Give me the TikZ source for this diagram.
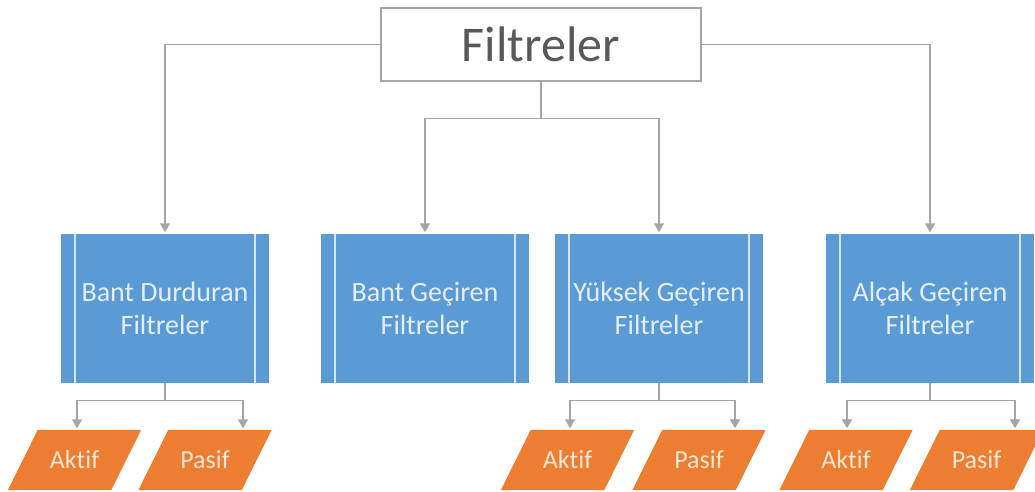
\documentclass[tikz,border=0pt]{standalone}
\usepackage{fontspec}
\setmainfont{Carlito}[Ligatures={NoCommon}]
\usetikzlibrary{arrows.meta}
\definecolor{bluefill}{HTML}{5B9BD5}
\definecolor{bluetext}{HTML}{E4EEF8}
\definecolor{stripe}{HTML}{D6E6F5}
\definecolor{orangefill}{HTML}{ED7D31}
\definecolor{orangetext}{HTML}{FCE6D4}
\definecolor{linegray}{HTML}{A5A5A5}
\definecolor{titlegray}{HTML}{595959}
\pgfdeclarelayer{background}
\pgfsetlayers{background,main}
\tikzset{
  titlebox/.style={draw=linegray, line width=2.8pt, fill=white, minimum width=320pt, minimum height=73pt,
    inner sep=0pt, text=titlegray, font=\fontsize{50}{60}\selectfont},
  bluebox/.style={fill=bluefill, minimum width=208pt, minimum height=149pt, inner sep=0pt,
    text=bluetext, align=center, font=\fontsize{28}{33}\selectfont,
    path picture={
      \draw[stripe, line width=1.3pt] ([xshift=14pt]path picture bounding box.north west) -- ([xshift=14pt]path picture bounding box.south west);
      \draw[stripe, line width=1.3pt] ([xshift=-14pt]path picture bounding box.north east) -- ([xshift=-14pt]path picture bounding box.south east);
    }},
  parabox/.style={minimum width=133pt, minimum height=60pt, inner sep=0pt,
    text=orangetext, font=\fontsize{26}{30}\selectfont},
  parafill/.style={fill=orangefill},
  conn/.style={draw=linegray, line width=1.4pt},
  arr/.style={conn, -{Triangle[width=10pt,length=9pt]}, color=linegray, shorten >=1.5pt},
}
\newcommand{\parashape}[1]{\fill[parafill] (#1.south west) -- ([xshift=30pt]#1.north west) -- (#1.north east) -- ([xshift=-30pt]#1.south east) -- cycle;}
\begin{document}
\begin{tikzpicture}[x=1pt, y=-1pt]
\useasboundingbox (0,0) rectangle (1035,492);

\node[titlebox] (top) at (541,44.5) {Filtreler};

\node[bluebox] (bd) at (165,308.5) {Bant Durduran\\Filtreler};
\node[bluebox] (bg) at (425,308.5) {Bant Geçiren\\Filtreler};
\node[bluebox] (yg) at (659,308.5) {Yüksek Geçiren\\Filtreler};
\node[bluebox] (ag) at (930,308.5) {Alçak Geçiren\\Filtreler};

\node[parabox] (a1) at (74.5,460) {Aktif};
\node[parabox] (p1) at (205,460) {Pasif};
\node[parabox] (a2) at (567.5,460) {Aktif};
\node[parabox] (p2) at (699,460) {Pasif};
\node[parabox] (a3) at (846,460) {Aktif};
\node[parabox] (p3) at (976.5,460) {Pasif};

\begin{pgfonlayer}{background}
\fill[white] (0,0) rectangle (1035,492);
\parashape{a1}\parashape{p1}\parashape{a2}\parashape{p2}\parashape{a3}\parashape{p3}
\end{pgfonlayer}

% top level connectors
\draw[arr] (top.west) -| (bd.north);
\draw[arr] (top.east) -| (ag.north);
\draw[conn] (top.south) -- ++(0,36) coordinate (mid);
\draw[arr] (mid) -| (bg.north);
\draw[arr] (mid) -| (yg.north);

% bottom connectors
\draw[conn] (bd.south) -- ++(0,17) coordinate (b1);
\draw[arr] (b1) -| ([xshift=2.5pt]a1.north);
\draw[arr] (b1) -| ([xshift=38pt]p1.north);
\draw[conn] (yg.south) -- ++(0,17) coordinate (b2);
\draw[arr] (b2) -| ([xshift=2.5pt]a2.north);
\draw[arr] (b2) -| ([xshift=36pt]p2.north);
\draw[conn] (ag.south) -- ++(0,17) coordinate (b3);
\draw[arr] (b3) -| ([xshift=1pt]a3.north);
\draw[arr] (b3) -| ([xshift=38.5pt]p3.north);
\end{tikzpicture}
\end{document}
